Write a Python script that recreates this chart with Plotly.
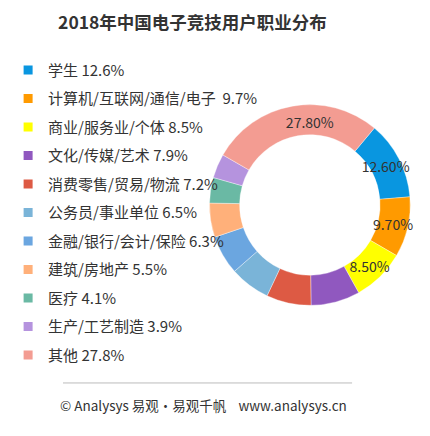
import plotly.graph_objects as go

# data
categories = ['学生', '计算机/互联网/通信/电子\u00a0', '商业/服务业/个体', '文化/传媒/艺术',
              '消费零售/贸易/物流', '公务员/事业单位', '金融/银行/会计/保险',
              '建筑/房地产', '医疗', '生产/工艺制造', '其他']
shares = [12.6, 9.7, 8.5, 7.9, 7.2, 6.5, 6.3, 5.5, 4.1, 3.9, 27.8]
show_label = [True, True, True, False, False, False, False, False, False, False, True]
colors = ['#0996e0', '#ff9a00', '#ffff00', '#9058bf', '#dd5a44', '#7ab4d8',
          '#6ba6e0', '#ffb07a', '#6ab9a4', '#b593de', '#f39c92']

FONT = 'Microsoft YaHei, Noto Sans CJK SC, sans-serif'

ring_text = [f'{v:.2f}%' if s else '' for v, s in zip(shares, show_label)]

fig = go.Figure()

fig.add_trace(go.Pie(
    labels=categories, values=shares, text=ring_text,
    texttemplate='%{text}', textposition='inside',
    insidetextorientation='horizontal',
    textfont=dict(size=14, color='#333333', family=FONT),
    marker=dict(colors=colors, line=dict(color='rgba(255,255,255,0.6)', width=0.6)),
    hole=0.70, sort=False, direction='clockwise', rotation=40,
    domain=dict(x=[0.4546, 0.9337], y=[0.312, 0.7844]),
    showlegend=False, hoverinfo='label+percent',
))

# legend entries, one group each so the rows get spaced like the original
for name, v, c in zip(categories, shares, colors):
    fig.add_trace(go.Scatter(
        x=[None], y=[None], mode='markers', name=f'{name} {v}%',
        legendgroup=name,
        marker=dict(symbol='square', size=9, color=c),
    ))

fig.update_layout(
    width=430, height=436,
    margin=dict(l=0, r=0, t=0, b=0),
    paper_bgcolor='white', plot_bgcolor='white',
    font=dict(family=FONT, color='#333333'),
    title=dict(text='<b>2018年中国电子竞技用户职业分布</b>', x=0.429, xanchor='center',
               y=0.966, yanchor='middle', font=dict(size=17.5, color='#333333', family=FONT)),
    xaxis=dict(visible=False), yaxis=dict(visible=False),
    legend=dict(x=-0.026, xanchor='left', y=0.895, yanchor='top',
                font=dict(size=15, color='#333333', family=FONT),
                traceorder='grouped', tracegroupgap=6, itemclick=False,
                bgcolor='rgba(0,0,0,0)'),
    uniformtext=dict(mode='show', minsize=14),
    shapes=[dict(type='line', xref='paper', yref='paper', x0=0.105, x1=0.795,
                 y0=0.140, y1=0.140, line=dict(color='#bbbbbb', width=1))],
    annotations=[dict(text='© Analysys 易观•易观千帆\u00a0\u00a0\u00a0\u00a0www.analysys.cn',
                      xref='paper', yref='paper', x=0.44, y=0.0894, showarrow=False,
                      xanchor='center', yanchor='middle',
                      font=dict(size=13.5, color='#333333', family=FONT))],
)

fig.write_html("out.html")
